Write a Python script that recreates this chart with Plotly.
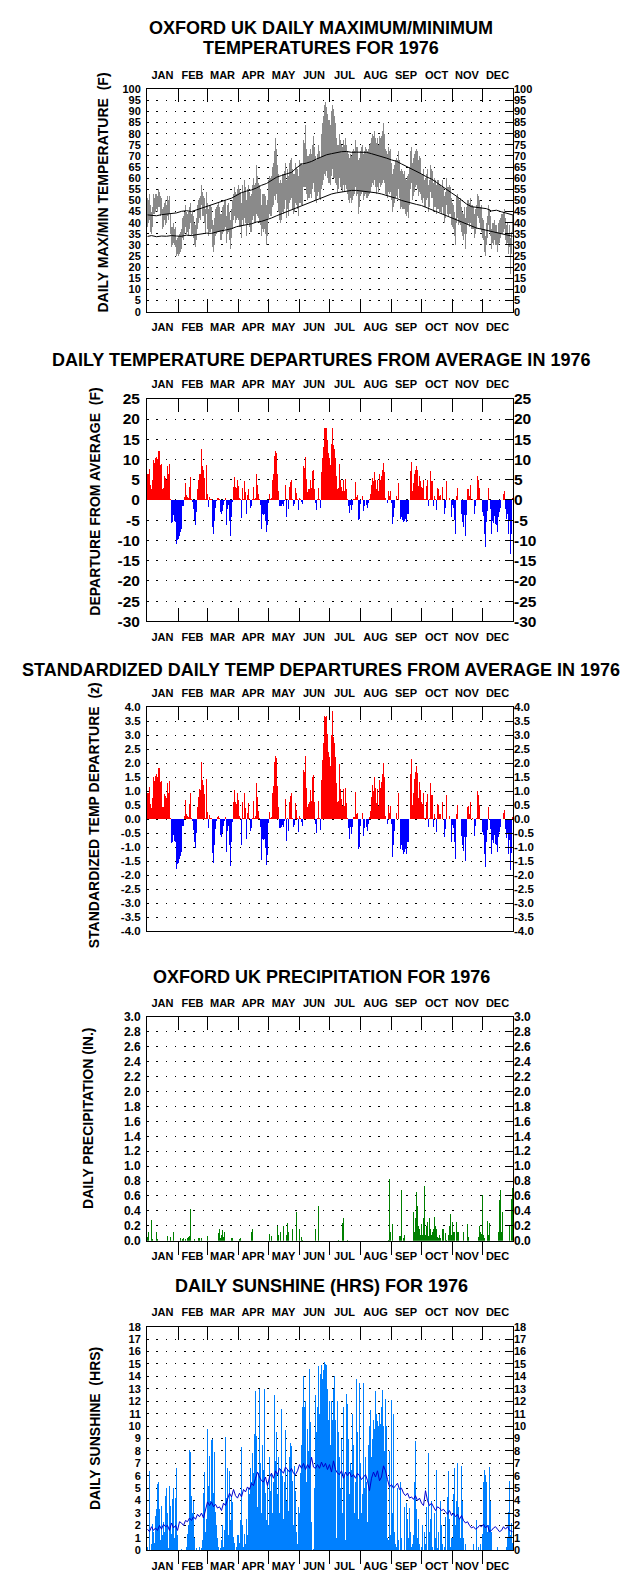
import plotly.graph_objects as go

W, H = 638, 1586
FONT = "Liberation Sans, Arial, Helvetica, sans-serif"

months = ["JAN", "FEB", "MAR", "APR", "MAY", "JUN", "JUL", "AUG", "SEP", "OCT", "NOV", "DEC"]
month_first = [1, 32, 61, 92, 122, 153, 183, 214, 245, 275, 306, 336, 367]

# ---------------- daily max / min temperature (F) ----------------
tmax = [51,50,53,48,45,47,53,51,53,53,52,55,54,52,51,46,47,49,50,48,52,50,52,44,38,38,40,37,38,32,33,
        34,35,36,37,42,43,45,48,45,44,45,47,49,44,45,43,40,39,42,48,50,51,52,57,54,52,51,46,54,
        49,46,48,48,47,41,39,42,46,47,48,49,47,44,44,47,48,50,50,43,48,49,45,41,46,50,53,56,54,53,55,
        57,55,54,49,57,54,59,56,50,55,57,54,52,53,57,60,57,58,66,61,58,57,55,48,53,53,53,52,48,50,
        59,61,60,61,65,67,72,78,73,66,62,58,59,58,62,62,63,67,59,64,61,67,68,69,64,62,62,67,65,64,61,
        68,67,67,66,77,76,84,73,70,70,71,73,71,75,79,74,70,68,71,75,72,69,80,85,88,93,94,92,89,86,
        86,84,90,93,91,88,85,78,75,75,80,77,75,74,77,75,78,75,72,71,69,71,70,72,73,72,77,74,74,68,69,
        72,74,75,71,72,74,73,72,73,75,76,78,80,79,81,78,76,78,75,79,78,79,81,85,80,73,72,71,74,72,73,
        67,62,64,66,68,69,68,72,68,63,64,63,62,63,60,59,61,62,65,72,74,67,69,71,72,73,72,68,70,69,
        62,62,64,59,60,62,64,57,59,66,64,63,58,60,59,57,59,59,57,57,56,59,56,52,54,60,56,56,57,56,51,
        49,48,45,42,52,53,51,50,51,47,45,44,47,42,47,50,50,49,51,48,48,47,44,46,48,53,52,50,47,48,
        42,41,37,34,40,43,48,46,43,37,40,40,41,39,39,36,40,41,42,44,44,45,46,42,39,40,35,39,33,36,44]
tmin = [38,40,41,36,35,38,44,44,45,46,45,47,47,43,44,37,38,41,39,40,43,41,44,35,29,30,31,30,29,25,26,
        25,26,27,28,33,32,35,38,35,36,34,37,40,34,35,33,30,29,32,37,40,42,41,48,43,43,40,35,44,
        37,34,36,36,37,29,27,30,34,35,36,36,36,32,32,35,36,37,38,31,35,36,32,28,33,37,41,43,40,41,42,
        41,38,38,33,41,39,42,40,34,39,40,38,36,36,41,43,40,40,44,43,42,40,39,34,37,36,37,35,30,34,
        42,44,43,43,47,48,52,50,53,49,45,41,40,41,45,44,46,50,42,46,43,49,50,51,46,44,45,49,48,46,43,
        49,49,48,48,56,56,56,53,50,51,51,53,51,55,58,54,50,49,52,54,51,50,55,57,59,62,61,63,60,58,
        58,57,61,64,60,60,58,57,54,55,60,56,55,54,57,54,57,55,53,50,49,51,49,50,52,53,56,52,53,44,47,
        52,53,54,50,52,53,51,51,52,53,54,56,58,57,59,56,53,56,54,58,56,57,58,59,58,53,52,51,54,53,54,
        50,45,47,49,51,52,51,55,51,46,47,46,46,46,44,43,45,42,48,55,58,50,52,54,56,57,55,52,54,53,
        50,49,51,47,47,50,51,45,47,54,51,51,45,47,47,44,46,46,45,45,44,47,44,40,42,48,44,43,44,44,39,
        38,37,34,30,40,42,39,40,39,36,34,32,35,28,35,39,40,38,40,37,37,37,33,35,37,43,42,40,37,36,
        33,32,27,25,30,33,39,36,34,28,31,30,32,30,30,27,30,31,33,35,35,36,37,32,30,31,26,29,17,26,35]

# normal max / min (F), read every 5 days
norm_days = [1, 5, 10, 15, 20, 25, 30, 35, 40, 45, 50, 55, 60, 65, 70, 75, 80, 85, 90, 95, 100, 105,
             110, 115, 120, 125, 130, 135, 140, 145, 150, 155, 160, 165, 170, 175, 180, 185, 190, 195,
             200, 205, 210, 215, 220, 225, 230, 235, 240, 245, 250, 255, 260, 265, 270, 275, 280, 285,
             290, 295, 300, 305, 310, 315, 320, 325, 330, 335, 340, 345, 350, 355, 360, 366]
norm_max = [43.5, 43.3, 43.1, 43.6, 43.9, 44.0, 44.4, 45.1, 45.4, 45.0, 45.8, 46.4, 47.3, 48.0, 48.9,
            49.6, 50.3, 51.0, 52.2, 53.5, 54.2, 54.7, 55.6, 56.8, 57.6, 59.2, 60.4, 61.2, 61.9, 62.6,
            64.6, 66.3, 66.8, 67.5, 68.6, 69.6, 70.5, 71.0, 71.6, 71.9, 72.0, 71.6, 71.7, 71.5, 71.6,
            71.0, 70.4, 69.8, 69.0, 68.2, 67.6, 66.4, 65.3, 64.4, 63.1, 61.9, 60.6, 59.6, 58.1, 56.5,
            54.6, 53.4, 51.9, 50.1, 48.4, 47.2, 46.9, 46.5, 46.3, 45.3, 45.6, 44.9, 44.3, 43.5]
norm_min = [33.8, 34.2, 33.7, 34.0, 33.9, 34.2, 34.0, 33.9, 34.4, 34.2, 34.6, 34.9, 35.3, 35.2, 35.9,
            36.4, 36.8, 37.3, 38.2, 38.5, 39.1, 39.5, 40.3, 40.6, 41.3, 42.1, 43.1, 44.0, 44.9, 45.7,
            46.7, 47.6, 48.6, 49.6, 50.4, 51.3, 52.2, 52.9, 53.4, 53.8, 54.2, 54.5, 54.5, 54.3, 54.0,
            53.8, 53.4, 52.9, 52.3, 51.6, 50.9, 50.0, 49.3, 48.8, 48.2, 47.7, 46.8, 46.0, 45.0, 44.1,
            43.0, 42.1, 41.3, 40.4, 39.6, 38.6, 37.6, 37.1, 36.6, 36.2, 35.8, 35.3, 34.6, 33.9]

# ---------------- daily departure from average (F) ----------------
dep = [6.3,6.3,7.7,3.6,2.6,5.0,9.9,9.1,10.3,10.7,10.0,12.1,12.1,8.7,9.0,2.8,3.0,6.0,5.5,5.0,8.5,6.3,8.9,0.3,-5.7,-5.4,-3.7,-5.1,-5.4,-11.0,-10.0,
       -9.6,-8.8,-8.0,-7.2,-1.5,-1.5,0.8,4.1,1.2,0.8,0.5,3.3,5.7,0.3,-0.5,-2.3,-5.0,-6.2,-3.1,2.6,4.9,6.5,6.3,12.5,8.5,7.5,5.5,0.3,8.7,
       1.4,-1.7,0.8,0.3,0.2,-6.6,-8.4,-5.1,-1.9,-0.3,0.4,0.6,0.2,-3.1,-3.5,-2.7,-1.3,-0.3,0.4,-6.3,-2.3,-1.3,-5.1,-9.0,-4.3,-0.5,3.3,5.7,3.3,3.0,5.0,
       3.4,0.5,0.3,-4.5,3.0,0.2,4.6,2.0,-3.5,1.2,2.8,0.3,-2.1,-1.5,0.2,3.2,0.3,0.5,6.3,3.8,1.5,0.2,-1.3,-7.2,-3.5,-3.7,-3.5,-5.1,-8.0,-6.3,
       -0.8,1.4,0.3,0.5,5.0,6.3,10.9,12.1,11.6,6.3,2.2,-1.6,-1.6,-1.5,-1.1,-1.5,-0.3,3.8,-4.1,0.2,-2.3,3.3,4.4,5.0,0.3,-1.5,-1.1,3.0,1.8,0.2,-2.4,
       0.5,0.2,-0.5,-1.1,8.3,7.9,10.6,5.2,2.0,2.6,2.8,5.0,3.0,7.1,7.5,2.8,-0.8,-2.4,0.3,3.0,0.2,-1.9,6.8,10.3,13.2,17.9,17.8,17.9,14.8,11.6,
       10.3,8.7,13.8,17.8,13.6,12.5,10.3,5.9,2.8,3.0,9.0,5.0,3.3,2.2,5.0,2.2,5.2,2.6,0.2,-1.5,-3.3,-1.3,-2.4,-1.3,0.3,0.3,4.4,0.8,1.1,-4.9,-4.6,
       -1.1,0.1,1.0,-2.7,-1.5,0.1,-1.3,-1.9,-0.8,0.3,1.4,3.6,5.5,4.6,6.8,5.0,2.6,4.9,2.2,6.3,5.0,6.0,7.3,9.1,6.8,0.6,0.1,-0.7,2.2,1.0,2.2,
       -0.8,-5.9,-4.1,-1.9,0.1,1.0,0.1,4.2,0.1,-4.7,-4.1,-4.9,-5.4,-5.1,-4.6,-5.4,-3.5,-3.5,0.1,7.1,9.5,2.2,4.2,6.3,7.5,8.3,7.3,3.4,5.9,4.6,
       3.3,3.0,5.0,0.2,0.3,3.4,4.9,-1.5,0.3,7.1,4.6,4.6,-1.5,1.0,0.3,-2.4,3.0,2.8,1.0,1.1,0.1,3.3,0.1,-3.5,-1.9,4.6,0.1,0.1,0.6,0.1,-4.3,
       -1.3,-1.9,-4.9,-8.4,1.0,3.0,0.1,0.1,0.1,-3.5,-5.5,-6.8,-3.7,-8.8,-3.7,2.6,2.8,1.0,3.6,0.1,0.3,0.1,-3.5,-1.5,0.3,6.0,5.0,3.0,0.1,0.1,
       -3.1,-3.9,-8.4,-11.6,-5.5,-2.7,3.0,0.1,-2.3,-8.4,-5.1,-5.7,-3.9,-5.9,-6.2,-8.0,-4.3,-3.1,-1.9,0.1,0.1,1.4,2.2,-2.3,-4.6,-3.5,-8.4,-5.1,-13.3,-8.4,0.5]

# ---------------- standardized departure (z) ----------------
zdep = [0.95,0.95,1.17,0.55,0.39,0.76,1.5,1.38,1.56,1.62,1.52,1.83,1.83,1.32,1.36,0.42,0.45,0.91,0.83,0.76,1.29,0.95,1.35,0.05,-0.86,-0.82,-0.56,-0.77,-0.82,-1.78,-1.6,
        -1.57,-1.44,-1.31,-1.18,-0.25,-0.25,0.13,0.67,0.2,0.13,0.08,0.54,0.93,0.05,-0.08,-0.38,-0.82,-1.02,-0.51,0.43,0.8,1.07,1.03,2.05,1.39,1.23,0.9,0.05,1.43,
        0.26,-0.31,0.15,0.06,0.04,-1.22,-1.56,-0.94,-0.35,-0.06,0.07,0.11,0.04,-0.57,-0.65,-0.5,-0.24,-0.06,0.07,-1.17,-0.43,-0.24,-0.94,-1.67,-0.8,-0.09,0.61,1.06,0.61,0.56,0.93,
        0.69,0.1,0.06,-0.92,0.61,0.04,0.94,0.41,-0.71,0.24,0.57,0.06,-0.43,-0.31,0.04,0.65,0.06,0.1,1.29,0.78,0.31,0.04,-0.27,-1.47,-0.71,-0.76,-0.71,-1.04,-1.63,-1.29,
        -0.15,0.26,0.06,0.09,0.94,1.19,2.06,2.28,2.19,1.19,0.42,-0.3,-0.3,-0.28,-0.21,-0.28,-0.06,0.72,-0.77,0.04,-0.43,0.62,0.83,0.94,0.06,-0.28,-0.21,0.57,0.34,0.04,-0.45,
        0.11,0.04,-0.11,-0.23,1.77,1.68,2.26,1.11,0.43,0.55,0.6,1.06,0.64,1.51,1.6,0.6,-0.17,-0.51,0.06,0.64,0.04,-0.4,1.4,2.12,2.72,3.69,3.67,3.69,3.05,2.39,
        2.24,1.89,3.0,3.87,2.96,2.72,2.24,1.28,0.61,0.65,1.96,1.09,0.72,0.48,1.09,0.48,1.13,0.57,0.04,-0.33,-0.72,-0.28,-0.52,-0.28,0.07,0.07,0.96,0.17,0.24,-1.07,-1.0,
        -0.24,0.02,0.22,-0.6,-0.33,0.02,-0.29,-0.42,-0.18,0.07,0.31,0.8,1.22,1.02,1.51,1.11,0.58,1.09,0.49,1.4,1.11,1.33,1.62,2.02,1.51,0.13,0.02,-0.16,0.49,0.22,0.49,
        -0.18,-1.34,-0.93,-0.43,0.02,0.23,0.02,0.95,0.02,-1.07,-0.93,-1.11,-1.23,-1.16,-1.05,-1.23,-0.8,-0.8,0.02,1.61,2.16,0.5,0.95,1.43,1.7,1.89,1.66,0.77,1.34,1.05,
        0.61,0.56,0.93,0.04,0.06,0.63,0.91,-0.28,0.06,1.31,0.85,0.85,-0.28,0.19,0.06,-0.44,0.56,0.52,0.19,0.2,0.02,0.61,0.02,-0.65,-0.35,0.85,0.02,0.02,0.11,0.02,-0.8,
        -0.22,-0.32,-0.83,-1.42,0.17,0.51,0.02,0.02,0.02,-0.59,-0.93,-1.15,-0.63,-1.49,-0.63,0.44,0.47,0.17,0.61,0.02,0.05,0.02,-0.59,-0.25,0.05,1.02,0.85,0.51,0.02,0.02,
        -0.46,-0.57,-1.24,-1.71,-0.81,-0.4,0.44,0.01,-0.34,-1.24,-0.75,-0.84,-0.57,-0.87,-0.91,-1.18,-0.63,-0.46,-0.28,0.01,0.01,0.21,0.32,-0.34,-0.68,-0.51,-1.24,-0.75,-1.8,-1.2,0.07]

# ---------------- precipitation (inches), days with rain ----------------
rain_days = [1,2,5,6,10,11,21,24,27,34,36,37,39,41,42,43,44,48,52,53,55,61,72,73,74,75,76,77,78,85,86,93,94,
             105,106,123,125,131,132,134,137,140,141,142,146,150,153,155,156,169,172,192,196,197,201,
             242,243,244,246,253,254,255,257,258,267,268,269,270,271,272,273,274,275,276,277,278,279,280,
             281,282,283,284,285,286,287,288,289,290,291,292,293,294,296,297,299,300,302,303,304,305,306,
             307,308,310,311,312,317,321,322,332,333,334,335,336,337,338,341,342,343,352,353,354,355,356,
             363,365,366]
rain_in = [0.05,0.12,0.28,0.02,0.11,0.02,0.06,0.05,0.11,0.03,0.02,0.03,0.02,0.04,0.05,0.06,0.43,0.02,0.03,0.03,0.04,0.06,0.10,0.15,0.04,0.07,0.14,0.05,0.11,0.03,0.03,0.02,0.04,
           0.11,0.16,0.09,0.06,0.19,0.07,0.12,0.20,0.07,0.24,0.11,0.15,0.38,0.15,0.05,0.01,0.15,0.47,0.01,0.24,0.31,0.01,
           0.01,0.83,0.11,0.22,0.06,0.06,0.68,0.04,0.07,0.38,0.12,0.30,0.65,0.47,0.20,0.16,0.07,0.23,0.08,0.30,0.73,0.07,0.20,
           0.25,0.06,0.31,0.16,0.07,0.11,0.16,0.32,0.20,0.15,0.05,0.03,0.08,0.03,0.15,0.15,0.10,0.01,0.07,0.19,0.36,0.07,0.25,
           0.12,0.11,0.25,0.11,0.11,0.12,0.22,0.05,0.05,0.20,0.11,0.09,0.61,0.07,0.04,0.27,0.07,0.24,0.11,0.55,0.68,0.11,0.38,
           0.19,0.56,0.70]

# ---------------- daily sunshine (hours) ----------------
sun = [0.3,0,6.4,0,0.5,2.1,1.5,0.6,2.8,3.3,5.3,5.5,3.3,0.8,3.6,1.2,2.3,1.5,4.4,5.0,3.0,0.2,5.2,3.6,1.3,4.1,5.0,1.0,4.2,6.6,1.2,
       0,0,0,0.1,0,0,0,0,0.3,1.3,2.0,8.1,7.9,4.4,3.0,4.0,1.0,0,0.2,0,0,0.3,0,0.2,0.8,4.6,6.3,1.5,2.5,
       9.8,5.2,7.6,4.0,8.9,9.0,4.6,7.9,3.1,2.0,1.0,0.3,0,0.2,0.8,2.0,0.3,1.6,9.1,4.2,6.6,1.2,6.4,2.4,4.4,3.9,1.1,0.6,0,0.3,1.2,
       1.2,0.6,2.4,8.3,2.0,0.3,1.3,0.5,2.5,1.2,5.0,4.5,6.6,5.5,7.8,6.2,9.4,12.8,9.2,3.5,6.2,13.0,7.0,3.0,8.5,6.5,13.0,4.6,2.4,5.5,
       2.0,7.5,4.8,6.2,3.0,5.5,12.5,7.2,9.5,4.5,7.5,3.0,6.5,11.4,6.0,2.5,5.5,9.7,4.0,6.5,3.2,7.5,8.6,8.4,5.6,2.0,6.8,4.8,1.5,0.5,3.5,
       3.0,6.2,8.5,11.5,14.0,11.5,12.0,5.5,9.8,8.0,14.6,10.3,2.3,0,0.1,5.0,12.5,9.5,11.5,14.8,11.0,14.2,14.9,13.8,14.5,15.2,15.0,14.9,13.0,10.5,
       12.0,8.5,12.0,10.5,13.0,14.0,10.5,1.0,12.0,9.5,7.5,5.0,9.0,3.0,11.5,6.0,0.8,12.6,11.8,9.0,4.5,7.0,6.5,11.0,8.5,3.0,5.5,13.8,9.5,2.5,13.5,
       7.0,3.0,4.5,13.5,5.0,7.5,5.5,2.3,8.5,10.0,11.3,7.5,9.0,10.5,9.8,12.8,11.0,10.4,10.0,11.0,10.2,11.5,12.9,10.0,8.0,12.2,10.0,1.0,0.8,8.0,1.2,
       12.1,3.0,11.0,1.5,0.5,0.3,5.0,0.8,0,5.5,1.0,0,0,3.5,0,3.8,2.5,1.0,3.4,1.5,0.3,0.5,1.2,5.5,8.8,3.3,1.0,2.5,0.5,0,
       0.3,2.0,0,1.5,0.5,3.5,0,7.8,1.5,2.5,4.0,0.3,0,3.0,1.0,6.5,0.2,1.5,0,4.0,2.0,0.5,0,0.3,2.7,0,4.3,6.4,2.5,0.3,1.0,
       1.0,4.5,6.6,2.0,4.0,7.0,3.5,2.5,1.0,6.8,4.0,1.0,0,0.5,0,0,0,0,0,0,0,0.5,0,0,2.4,0,0.3,0,0.5,0,
       1.3,5.5,6.5,6.1,5.5,1.5,2.0,6.7,4.0,1.5,0,0,0,0,0,0.3,0,0,0,0,0,0,0,0,0.3,1.0,3.1,5.6,1.2,2.2,0.6]

# normal sunshine (hours), read every 2nd day
sun_norm_days = list(range(1, 367, 2)) + [366]
sun_norm = [1.7,1.5,1.9,1.6,1.8,1.6,2.0,1.7,2.1,1.9,2.0,1.6,2.2,1.8,2.0,1.6,
            2.3,2.2,2.0,2.4,2.3,2.6,2.4,2.7,2.5,2.9,2.7,3.0,2.6,3.3,3.9,
            3.6,3.9,3.5,3.7,3.4,3.5,3.2,3.8,3.6,4.1,4.6,4.3,4.9,4.4,4.2,
            4.6,4.3,4.9,4.7,5.1,4.9,5.4,5.2,5.8,6.3,5.9,5.6,5.5,5.9,5.2,
            5.9,6.2,5.8,6.4,6.1,6.6,6.4,6.2,6.7,6.5,6.3,6.6,6.2,6.1,6.4,
            6.9,6.6,7.0,6.5,6.9,6.6,7.5,6.7,6.6,6.9,6.6,7.1,6.7,7.0,6.5,
            6.9,6.3,7.2,6.5,6.2,6.1,6.4,5.8,6.3,6.0,6.3,5.9,6.1,5.8,6.2,6.0,
            5.7,5.9,6.1,5.6,4.8,5.8,6.3,5.9,6.4,5.6,5.9,6.8,6.4,5.7,5.1,
            5.3,5.0,5.2,5.4,4.9,5.0,4.6,4.4,4.6,4.2,4.3,4.1,4.4,4.0,4.2,
            3.8,3.6,4.8,4.0,3.6,3.8,3.5,3.2,3.5,3.4,3.2,3.3,3.1,2.9,3.2,2.8,
            3.0,2.7,2.9,2.5,2.8,2.4,2.2,2.3,2.0,1.8,1.9,1.7,1.8,2.0,1.9,
            2.1,1.8,2.0,1.5,1.6,1.8,1.9,1.7,1.5,1.6,1.9,1.7,1.9,1.6,1.5,1.5]

for name, arr in [("tmax", tmax), ("tmin", tmin), ("dep", dep), ("zdep", zdep), ("sun", sun)]:
    assert len(arr) == 366, (name, len(arr))
assert len(rain_days) == len(rain_in), (len(rain_days), len(rain_in))
assert len(sun_norm_days) == len(sun_norm), (len(sun_norm_days), len(sun_norm))
assert len(norm_days) == len(norm_max) == len(norm_min), (len(norm_days), len(norm_max), len(norm_min))

# ---------------- geometry helpers ----------------
days = list(range(1, 367))
xpos = [d - 0.5 for d in days]
bounds = [m - 1 for m in month_first[1:-1]]
centers = [(month_first[i] - 1 + month_first[i + 1] - 1) / 2 for i in range(12)]

X0, X1 = 147.0, 513.0


def xk(n):
    return "xaxis" if n == 1 else f"xaxis{n}"


def xr(n):
    return "x" if n == 1 else f"x{n}"


def yk(n):
    return "yaxis" if n == 1 else f"yaxis{n}"


def yr(n):
    return "y" if n == 1 else f"y{n}"


def font(size):
    return dict(family=FONT, size=size, color="black", weight="bold")


panels = [
    dict(top=81, bot=306, rng=[0, 100], tv=list(range(0, 101, 5)), fmt="{:d}", fs=11,
         bt="inside", bl=True, ytitle="DAILY MAX/MIN TEMPERATURE  (F)", ytx=103.5, yty=186),
    dict(top=394, bot=619, rng=[-30, 25], tv=list(range(-30, 26, 5)), fmt="{:d}", fs=15.5,
         bt="inside", bl=True, ytitle="DEPARTURE FROM AVERAGE  (F)", ytx=95, yty=498),
    dict(top=706, bot=932, rng=[-4, 4], tv=[i * 0.5 for i in range(-8, 9)], fmt="{:.1f}", fs=11.5,
         bt="", bl=False, ytitle="STANDARDIZED TEMP DEPARTURE  (z)", ytx=94, yty=815),
    dict(top=1019, bot=1245, rng=[0, 3], tv=[i * 0.2 for i in range(0, 16)], fmt="{:.1f}", fs=12,
         bt="outside", bl=True, ytitle="DAILY PRECIPITATION (IN.)", ytx=88, yty=1121),
    dict(top=1332, bot=1558, rng=[0, 18], tv=list(range(0, 19)), fmt="{:d}", fs=11,
         bt="outside", bl=True, ytitle="DAILY SUNSHINE  (HRS)", ytx=94.5, yty=1435),
]

layout = dict(width=W, height=H, margin=dict(l=0, r=0, t=0, b=0), paper_bgcolor="white",
              plot_bgcolor="white", showlegend=False, bargap=0, hovermode=False,
              annotations=[])

fig = go.Figure()

for i, p in enumerate(panels):
    xm = 4 * i + 1
    ym = 2 * i + 1
    xd = [X0 / W, X1 / W]
    yd = [1 - p["bot"] / H, 1 - p["top"] / H]
    tt = [p["fmt"].format(v) for v in p["tv"]]
    common_x = dict(domain=xd, range=[0, 366], anchor=yr(ym), tickmode="array", showgrid=False,
                    zeroline=False, fixedrange=True)
    layout[xk(xm)] = dict(common_x, tickvals=bounds, ticks=p["bt"], ticklen=13, tickwidth=1,
                          tickcolor="black", showticklabels=False, showline=True, linecolor="black",
                          linewidth=1, mirror=True)
    layout[xk(xm + 1)] = dict(common_x, overlaying=xr(xm), side="top", tickvals=bounds, ticks="inside",
                              ticklen=13, tickwidth=1, tickcolor="black", showticklabels=False,
                              showline=False)
    layout[xk(xm + 2)] = dict(common_x, overlaying=xr(xm), side="top", tickvals=centers, ticktext=months,
                              ticks="outside", ticklen=5, tickcolor="rgba(0,0,0,0)", tickfont=font(11),
                              showline=False)
    layout[xk(xm + 3)] = dict(common_x, overlaying=xr(xm), side="bottom", tickvals=centers,
                              ticktext=months, ticks="outside", ticklen=5, tickcolor="rgba(0,0,0,0)",
                              tickfont=font(11), showline=False, showticklabels=p["bl"])
    layout[yk(ym)] = dict(domain=yd, range=p["rng"], anchor=xr(xm), tickmode="array", tickvals=p["tv"],
                          ticktext=tt, ticks="outside", ticklen=3, tickcolor="rgba(0,0,0,0)",
                          tickfont=font(p["fs"]), showgrid=True, gridcolor="black", gridwidth=1,
                          griddash="1.5px,7.75px", zeroline=False, showline=True, linecolor="black",
                          linewidth=1, mirror=True, fixedrange=True)
    layout[yk(ym + 1)] = dict(domain=yd, range=p["rng"], overlaying=yr(ym), anchor=xr(xm), side="right",
                              tickmode="array", tickvals=p["tv"], ticktext=tt, ticks="inside", ticklen=8,
                              tickwidth=1, tickcolor="black", tickfont=font(p["fs"]), showgrid=False,
                              showline=False, zeroline=False, fixedrange=True)
    layout["annotations"].append(dict(text=p["ytitle"], textangle=-90, xref="paper", yref="paper",
                                      x=p["ytx"] / W, y=1 - p["yty"] / H, xanchor="center", yanchor="middle",
                                      showarrow=False, font=font(14)))
    # invisible anchors so that every overlaying axis is drawn
    for xa, ya in [(xm + 1, ym), (xm + 2, ym), (xm + 3, ym), (xm, ym + 1)]:
        fig.add_trace(go.Scatter(x=[0], y=[p["rng"][0]], mode="markers",
                                 marker=dict(size=1, opacity=0), xaxis=xr(xa), yaxis=yr(ya)))

titles = [("OXFORD UK DAILY MAXIMUM/MINIMUM", 19), ("TEMPERATURES FOR 1976", 39),
          ("DAILY TEMPERATURE DEPARTURES FROM AVERAGE IN 1976", 355),
          ("STANDARDIZED DAILY TEMP DEPARTURES FROM AVERAGE IN 1976", 668),
          ("OXFORD UK PRECIPITATION FOR 1976", 978),
          ("DAILY SUNSHINE (HRS) FOR 1976", 1291)]
for txt, ypx in titles:
    layout["annotations"].append(dict(text=txt, xref="paper", yref="paper", x=321 / W, y=1 - ypx / H,
                                      xanchor="center", yanchor="middle", showarrow=False, font=font(18)))

fig.update_layout(layout)

# panel 1: max/min band + normals
fig.add_trace(go.Bar(x=xpos, base=tmin, y=[a - b for a, b in zip(tmax, tmin)], width=1,
                     marker=dict(color="#8a8a8a", line=dict(width=0)), xaxis=xr(1), yaxis=yr(1)))
fig.add_trace(go.Scatter(x=[d - 0.5 for d in norm_days], y=norm_max, mode="lines",
                         line=dict(color="black", width=1), xaxis=xr(1), yaxis=yr(1)))
fig.add_trace(go.Scatter(x=[d - 0.5 for d in norm_days], y=norm_min, mode="lines",
                         line=dict(color="black", width=1), xaxis=xr(1), yaxis=yr(1)))

# panel 2: departures
fig.add_trace(go.Bar(x=xpos, y=dep, width=1,
                     marker=dict(color=["#ff0000" if v >= 0 else "#0000ff" for v in dep], line=dict(width=0)),
                     xaxis=xr(5), yaxis=yr(3)))
# panel 3: standardized departures
fig.add_trace(go.Bar(x=xpos, y=zdep, width=1,
                     marker=dict(color=["#ff0000" if v >= 0 else "#0000ff" for v in zdep], line=dict(width=0)),
                     xaxis=xr(9), yaxis=yr(5)))
# panel 4: precipitation
fig.add_trace(go.Bar(x=[d - 0.5 for d in rain_days], y=rain_in, width=1,
                     marker=dict(color="#008000", line=dict(width=0)), xaxis=xr(13), yaxis=yr(7)))
# panel 5: sunshine
fig.add_trace(go.Bar(x=xpos, y=sun, width=1,
                     marker=dict(color="#0080ff", line=dict(width=0)), xaxis=xr(17), yaxis=yr(9)))
fig.add_trace(go.Scatter(x=[d - 0.5 for d in sun_norm_days], y=sun_norm, mode="lines",
                         line=dict(color="#0000cc", width=1), xaxis=xr(17), yaxis=yr(9)))

fig.write_html("out.html", config={"displayModeBar": False, "staticPlot": True},
               post_script="document.body.style.margin='0px';document.body.style.overflow='hidden';")
